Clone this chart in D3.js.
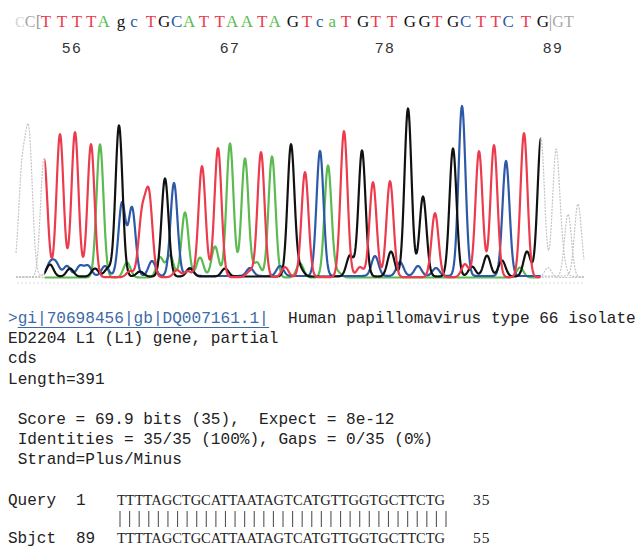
<!DOCTYPE html>
<html>
<head>
<meta charset="utf-8">
<script src="https://cdn.jsdelivr.net/npm/d3@7"></script>
<style>
body { margin: 0; background: #fff; }
svg { display: block; background: #fff; }
text { white-space: pre; }
</style>
</head>
<body>
<svg id="chart" width="639" height="548"></svg>
<script>
// base calls in the clear range, one per main peak
var calls = "TTTTAgcTGCATTAATAGTcaTGTTGGTGCTTCTG".split("");
var callScan = [44, 60, 75, 91, 100, 119, 132, 149, 165, 174, 185, 202, 218, 230, 245, 261, 272, 291, 305,
                320, 328, 344, 362, 373, 390, 408, 423, 435, 453, 462, 479, 494, 506, 524, 541];
var callHeight = [118, 143, 145, 133, 133, 151, 68, 80, 98, 93, 65, 111, 129, 134, 119, 125, 121, 132, 105,
                  125, 112, 146, 126, 95, 96, 168, 80, 64, 128, 170, 126, 132, 115, 144, 138];
var firstBase = 55;
var tickNums = [56, 67, 78, 89];

// clear range (scan) and the trimmed calls outside of it
var clearRange = [44.5, 540.5];
var trimCalls = ["C", "C", "G", "T"];
var trimScan = [20, 30, 558, 569];

// minor peaks, [scan, height]
var minorA = [[127, 15], [160, 20], [170, 22], [200, 20], [215, 31], [257, 15], [300, 14], [338, 5], [520, 10], [548, 10]];
var minorC = [[22, 100], [29, 135], [50, 12], [56, 12], [67, 10], [80, 10], [88, 10], [105, 10], [122, 73], [152, 15],
              [190, 8], [250, 8], [280, 10], [375, 20], [400, 14], [418, 10], [436, 8], [578, 72]];
var minorG = [[50, 12], [70, 8], [95, 8], [108, 8], [140, 5], [190, 8], [225, 8], [300, 8], [350, 21], [391, 25],
              [472, 10], [487, 21], [502, 16], [527, 25], [556, 123], [562, 18]];
var minorT = [[142, 60], [130, 6], [177, 7], [188, 6], [250, 6], [285, 10], [360, 10], [465, 13], [568, 63]];

var colors = {A: "#5bbb50", C: "#2d59a6", G: "#111111", T: "#ec3b4d"};
var channels = ["A", "C", "G", "T"];

var headLines = ["ED2204 L1 (L1) gene, partial", "cds", "Length=391"];
var statLines = [" Score = 69.9 bits (35),  Expect = 8e-12",
                 " Identities = 35/35 (100%), Gaps = 0/35 (0%)",
                 " Strand=Plus/Minus"];
var querySeq = "TTTTAGCTGCATTAATAGTCATGTTGGTGCTTCTG";
var sbjctSeq = "TTTTAGCTGCATTAATAGTCATGTTGGTGCTTCTG";
var queryRange = [1, 35];
var sbjctRange = [89, 55];

var svg = d3.select("#chart");
var x = d3.scaleLinear().domain([0, 639]).range([0, 639]);
var y = d3.scaleLinear().domain([0, 175]).range([278, 103]);
var sigma = 3.5;

// collect the peaks for each channel
var peaks = {A: [], C: [], G: [], T: []};
calls.forEach(function(b, i) {
  peaks[b.toUpperCase()].push([callScan[i], callHeight[i]]);
});
peaks.A = peaks.A.concat(minorA);
peaks.C = peaks.C.concat(minorC);
peaks.G = peaks.G.concat(minorG);
peaks.T = peaks.T.concat(minorT);

var scans = d3.range(16, 584.5, 0.5);
function trace(list, lift) {
  return scans.map(function(s) {
    var v = lift;
    list.forEach(function(p) {
      var d = s - p[0];
      v += p[1] * Math.exp(-d * d / (2 * sigma * sigma));
    });
    return [s, v];
  });
}
var lifts = {A: 0.5, C: 2, G: 1.5, T: 0.8};
var line = d3.line().x(function(d) { return x(d[0]); }).y(function(d) { return y(d[1]); });

var defs = svg.append("defs");
defs.append("clipPath").attr("id", "clear")
  .append("rect").attr("x", x(clearRange[0])).attr("y", 0)
  .attr("width", x(clearRange[1]) - x(clearRange[0])).attr("height", 300);
var trimClip = defs.append("clipPath").attr("id", "trim");
trimClip.append("rect").attr("x", 0).attr("y", 0).attr("width", x(clearRange[0])).attr("height", 300);
trimClip.append("rect").attr("x", x(clearRange[1])).attr("y", 0).attr("width", 639 - x(clearRange[1])).attr("height", 300);

// grey baseline under the trace
svg.append("line")
  .attr("x1", x(17)).attr("x2", x(583)).attr("y1", 283).attr("y2", 283)
  .attr("stroke", "#dcdcdc").attr("stroke-dasharray", "2,2");

// trimmed part in grey
svg.append("g").attr("clip-path", "url(#trim)")
  .selectAll("path").data(channels).enter().append("path")
  .attr("d", function(c) { return line(trace(peaks[c], lifts[c])); })
  .attr("fill", "none").attr("stroke", "#c4c4c4").attr("stroke-width", 1.2)
  .attr("stroke-dasharray", "2,1.2");

// clear range in colour
svg.append("g").attr("clip-path", "url(#clear)")
  .selectAll("path").data(channels).enter().append("path")
  .attr("d", function(c) { return line(trace(peaks[c], lifts[c])); })
  .attr("fill", "none").attr("stroke", function(c) { return colors[c]; })
  .attr("stroke-width", 2.2).attr("stroke-linejoin", "round");

// base calls on top: start at the peak, then push close letters apart
var letterX = callScan.map(function(s) { return x(s) + 2; });
var minGap = 12.5;
for (var k = 0; k < 60; k++) {
  for (var i = 0; i < letterX.length - 1; i++) {
    var short = minGap - (letterX[i + 1] - letterX[i]);
    if (short > 0) {
      letterX[i] -= short / 2;
      letterX[i + 1] += short / 2;
    }
  }
}
svg.append("g").selectAll("text").data(calls).enter().append("text")
  .attr("x", function(d, i) { return letterX[i]; })
  .attr("y", 27)
  .attr("text-anchor", "middle")
  .attr("font-family", "Liberation Serif")
  .attr("font-size", 17)
  .attr("fill", function(d) { return colors[d.toUpperCase()]; })
  .text(function(d) { return d; });

svg.append("g").selectAll("text").data(trimCalls).enter().append("text")
  .attr("x", function(d, i) { return x(trimScan[i]); })
  .attr("y", 27)
  .attr("text-anchor", "middle")
  .attr("font-family", "Liberation Serif")
  .attr("font-size", function(d, i) { return i == 0 ? 14 : 16; })
  .attr("fill", function(d, i) { return i == 0 ? "#d0d0d0" : "#a8a8a8"; })
  .text(function(d) { return d; });

svg.append("text").attr("x", x(clearRange[0]) - 6).attr("y", 27)
  .attr("text-anchor", "middle")
  .attr("font-family", "Liberation Serif").attr("font-size", 17).attr("fill", "#999")
  .text("[");
svg.append("text").attr("x", x(clearRange[1]) + 10).attr("y", 27)
  .attr("text-anchor", "middle")
  .attr("font-family", "Liberation Serif").attr("font-size", 17).attr("fill", "#999")
  .text("|");

// base numbers
svg.append("g").selectAll("text").data(tickNums).enter().append("text")
  .attr("x", function(d) { return x(callScan[d - firstBase]) + 2; })
  .attr("y", 53)
  .attr("font-family", "Liberation Sans")
  .attr("font-size", 15)
  .attr("letter-spacing", 2)
  .attr("fill", "#333")
  .text(function(d) { return d; });

// BLAST hit text
var mono = "Liberation Mono";
var head = svg.append("text").attr("x", 8).attr("y", 323)
  .attr("font-family", mono).attr("font-size", 16.1).attr("fill", "#222");
head.append("tspan").attr("fill", "#3c6aa8").text(">");
head.append("tspan").attr("fill", "#3c6aa8").text("gi|70698456|gb|DQ007161.1|");
head.append("tspan").text("  Human papillomavirus type 66 isolate");
var charW = head.node().getSubStringLength(0, 1);
svg.append("line")
  .attr("x1", 8 + charW).attr("x2", 8 + charW * 27)
  .attr("y1", 327.5).attr("y2", 327.5)
  .attr("stroke", "#3c6aa8").attr("stroke-width", 1);

svg.append("g").selectAll("text").data(headLines).enter().append("text")
  .attr("x", 8).attr("y", function(d, i) { return 343 + i * 20.3; })
  .attr("font-family", mono).attr("font-size", 16.1).attr("fill", "#222")
  .text(function(d) { return d; });

svg.append("g").selectAll("text").data(statLines).enter().append("text")
  .attr("x", 8).attr("y", function(d, i) { return 424 + i * 20; })
  .attr("font-family", mono).attr("font-size", 16.1).attr("fill", "#222")
  .text(function(d) { return d; });

// alignment
var rows = [
  {label: "Query", seq: querySeq, r: queryRange, y: 505},
  {label: "Sbjct", seq: sbjctSeq, r: sbjctRange, y: 543}
];
rows.forEach(function(row) {
  svg.append("text").attr("x", 8).attr("y", row.y)
    .attr("font-family", mono).attr("font-size", 16).attr("fill", "#222")
    .text(row.label);
  svg.append("text").attr("x", 76).attr("y", row.y)
    .attr("font-family", mono).attr("font-size", 16).attr("fill", "#222")
    .text(row.r[0]);
  svg.append("text").attr("x", 117).attr("y", row.y)
    .attr("font-family", "Liberation Serif").attr("font-size", 14.5).attr("fill", "#222")
    .attr("textLength", 328).attr("lengthAdjust", "spacingAndGlyphs")
    .text(row.seq);
  svg.append("text").attr("x", 473).attr("y", row.y)
    .attr("font-family", "Liberation Serif").attr("font-size", 15.5).attr("fill", "#222")
    .attr("letter-spacing", 1)
    .text(row.r[1]);
});

var matchIdx = d3.range(querySeq.length).filter(function(i) { return querySeq[i] == sbjctSeq[i]; });
var bx = d3.scalePoint().domain(d3.range(querySeq.length)).range([120, 446]);
svg.append("g").selectAll("line").data(matchIdx).enter().append("line")
  .attr("x1", function(i) { return bx(i); }).attr("x2", function(i) { return bx(i); })
  .attr("y1", 511).attr("y2", 527)
  .attr("stroke", "#555").attr("stroke-width", 1.1);
</script>
</body>
</html>
